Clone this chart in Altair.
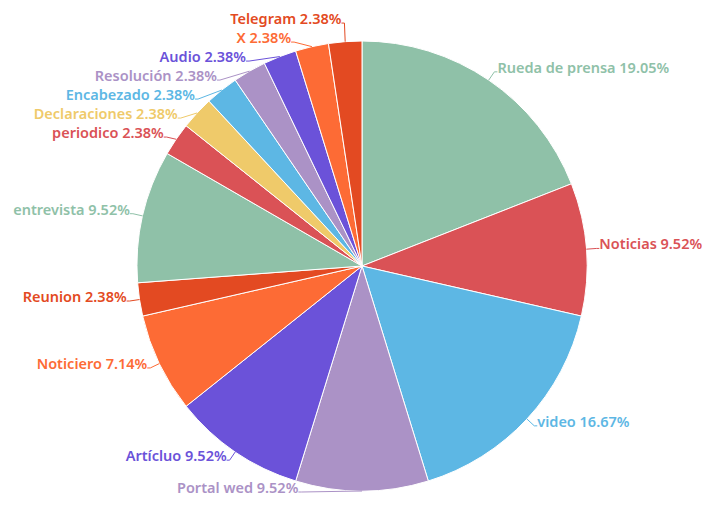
import altair as alt
import pandas as pd

categories = ["Rueda de prensa", "Noticias", "video", "Portal wed", "Artícluo",
              "Noticiero", "Reunion", "entrevista", "periodico", "Declaraciones",
              "Encabezado", "Resolución", "Audio", "X", "Telegram"]
counts = [8, 4, 7, 4, 4, 3, 1, 4, 1, 1, 1, 1, 1, 1, 1]
colors = ["#8FC1A8", "#DA5256", "#5DB7E4", "#AB92C6", "#6B52D9",
          "#FD6B35", "#E34A22", "#8FC1A8", "#DA5256", "#EFCA6A",
          "#5DB7E4", "#AB92C6", "#6B52D9", "#FD6B35", "#E34A22"]

total = sum(counts)
df = pd.DataFrame({
    "cat": categories,
    "value": counts,
    "order": list(range(len(categories))),
    "label": [f"{c} {100 * v / total:.2f}%" for c, v in zip(categories, counts)],
})

W, H = 694, 490
CX, CY = 354, 258           # pie centre inside the plot area
R = 225                     # pie radius
RE = 235                    # natural radius of label elbows
RC = 234                    # circle that labels keep outside of
LEG = 3                     # horizontal leg of label lines
GAP = 19                    # minimum vertical gap between labels

xs = alt.Scale(domain=[-CX, W - CX], nice=False, zero=False)
ys = alt.Scale(domain=[-(H - CY), CY], nice=False, zero=False)
col = alt.Color("cat:N", scale=alt.Scale(domain=categories, range=colors), legend=None)

pie = alt.Chart(df).mark_arc(outerRadius=R, stroke="white", strokeWidth=1).encode(
    theta=alt.Theta("value:Q", stack=True),
    order=alt.Order("order:Q"),
    color=col,
    x=alt.X(datum=0, type="quantitative", scale=xs, axis=None),
    y=alt.Y(datum=0, type="quantitative", scale=ys, axis=None),
)

desc = [alt.SortField("ny", order="descending")]
lab = (
    alt.Chart(df)
    .transform_window(cum="sum(value)", sort=[alt.SortField("order")], frame=[None, 0])
    .transform_joinaggregate(total="sum(value)")
    .transform_calculate(mid="(datum.cum - datum.value / 2) / datum.total * 2 * PI")
    .transform_calculate(
        side="sin(datum.mid) > 0.01 ? 'R' : 'L'",
        ex=f"{R} * sin(datum.mid)", ey=f"{R} * cos(datum.mid)",
        nx=f"{RE} * sin(datum.mid)", ny=f"{RE} * cos(datum.mid)",
    )
    .transform_window(rk="row_number()", sort=desc, groupby=["side"])
    .transform_calculate(tmp=f"datum.ny + {GAP} * datum.rk")
    .transform_window(cm="min(tmp)", sort=desc, groupby=["side"], frame=[None, 0])
    .transform_calculate(p=f"datum.cm - {GAP} * datum.rk")
    .transform_calculate(flag="abs(datum.p - datum.ny) < 0.001 ? 1 : 0",
                         disp="datum.ny - datum.p")
    .transform_window(cid="sum(flag)", sort=desc, groupby=["side"], frame=[None, 0])
    .transform_joinaggregate(md="mean(disp)", groupby=["side", "cid"])
    .transform_calculate(ay=f"clamp(datum.p + 0.5 * datum.md, {-(H - CY) + 6}, {CY - 8})")
    .transform_calculate(circ=f"sqrt(max(0, {RC ** 2} - datum.ay * datum.ay))")
    .transform_calculate(
        bx="datum.side == 'R' ? max(datum.nx, datum.circ) : min(datum.nx, -datum.circ)")
    .transform_calculate(
        lx=f"datum.side == 'R' ? datum.bx + {LEG} : datum.bx - {LEG}")
)

seg1 = lab.mark_rule(strokeWidth=1).encode(
    x=alt.X("ex:Q", scale=xs, axis=None), y=alt.Y("ey:Q", scale=ys, axis=None),
    x2="bx:Q", y2="ay:Q", color=col)
seg2 = lab.mark_rule(strokeWidth=1).encode(
    x=alt.X("bx:Q", scale=xs, axis=None), y=alt.Y("ay:Q", scale=ys, axis=None),
    x2="lx:Q", y2="ay:Q", color=col)

font = dict(font="Noto Sans", fontSize=14.5, fontWeight=600, baseline="alphabetic", dy=1)
txtR = lab.transform_filter("datum.side == 'R'").mark_text(align="left", dx=0, **font).encode(
    x=alt.X("lx:Q", scale=xs, axis=None), y=alt.Y("ay:Q", scale=ys, axis=None),
    text="label:N", color=col)
txtL = lab.transform_filter("datum.side == 'L'").mark_text(align="right", dx=0, **font).encode(
    x=alt.X("lx:Q", scale=xs, axis=None), y=alt.Y("ay:Q", scale=ys, axis=None),
    text="label:N", color=col)

chart = (
    alt.layer(pie, seg1, seg2, txtR, txtL)
    .properties(width=W, height=H, padding=0, autosize=alt.AutoSizeParams(type="none"))
    .configure_view(stroke=None)
)

chart.save("out.html", embed_options={"renderer": "svg", "actions": False})
